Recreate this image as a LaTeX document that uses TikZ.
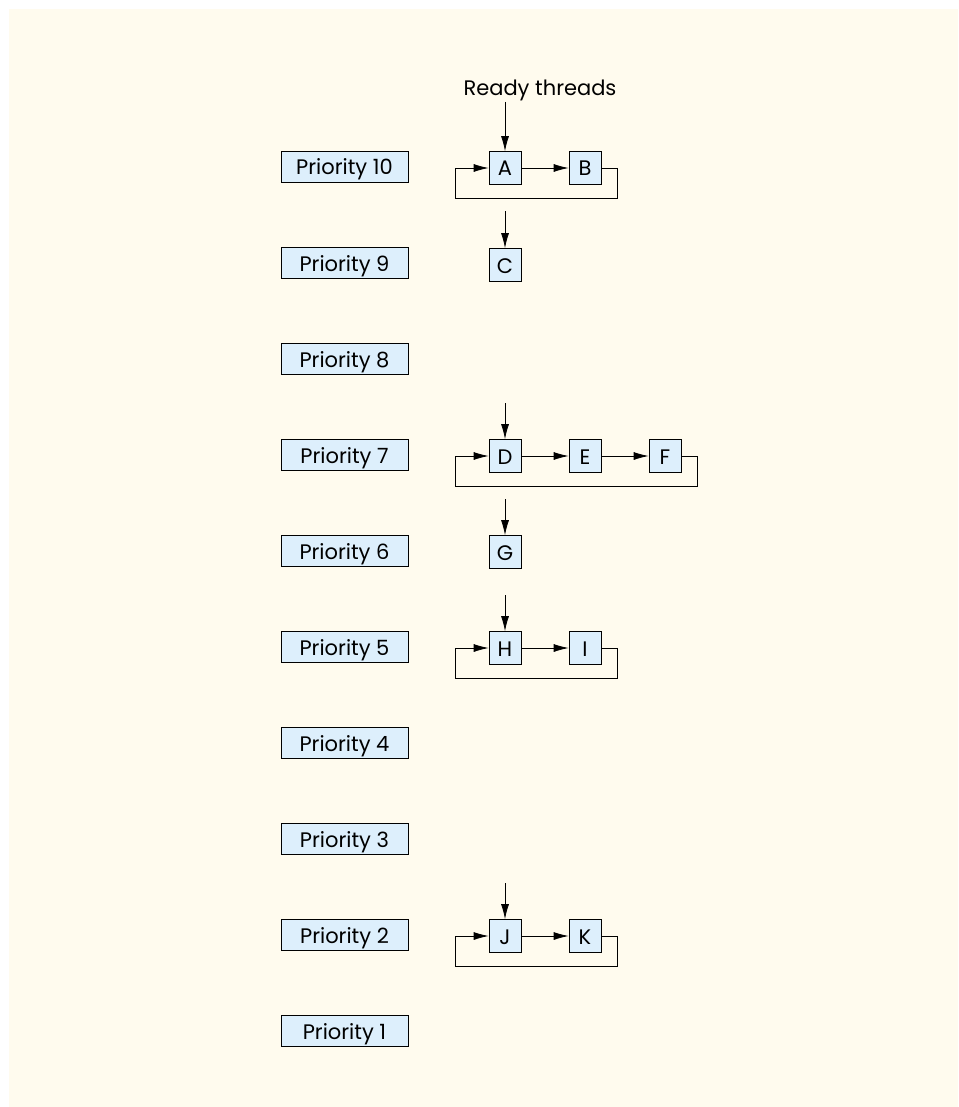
\documentclass[tikz,border=0pt]{standalone}
\usepackage{fontspec}
\setmainfont{Poppins}
\usetikzlibrary{arrows.meta,calc}
\definecolor{bgcream}{RGB}{255,251,238}
\definecolor{boxblue}{RGB}{221,239,252}
\tikzset{
  prio/.style={draw=black, fill=boxblue, line width=0.8pt, minimum width=127pt, minimum height=31pt, inner sep=0pt, text height=16pt, text depth=0pt, font=\fontsize{21}{24}\selectfont},
  thread/.style={draw=black, fill=boxblue, line width=0.7pt, minimum width=32pt, minimum height=33pt, inner sep=0pt, text height=16pt, text depth=0pt, font=\fontsize{21}{24}\selectfont},
  arr/.style={line width=0.8pt, -{Latex[length=15pt,width=8pt]}}
}
\begin{document}
\begin{tikzpicture}[x=1pt,y=-1pt]
\useasboundingbox (0,0) rectangle (958,1107);
\fill[bgcream] (9,9) rectangle (958,1107);
% priority boxes
\foreach \n [count=\k from 0] in {10,9,8,7,6,5,4,3,2,1}{
  \node[prio] (p\n) at (344.5,{167+96*\k}) {Priority \n};
}
% label
\node[font=\fontsize{21}{24}\selectfont, text height=16pt, text depth=0pt, inner sep=0pt] (ready) at (540,88) {Ready threads};
% threads
\node[thread] (A) at (505,168) {A};
\node[thread] (B) at (585,168) {B};
\node[thread] (C) at (505,265) {C};
\node[thread] (D) at (505,456) {D};
\node[thread] (E) at (585,456) {E};
\node[thread] (F) at (665,456) {F};
\node[thread] (G) at (505,552) {G};
\node[thread] (H) at (505,648) {H};
\node[thread] (I) at (585,648) {I};
\node[thread] (J) at (505,936) {J};
\node[thread] (K) at (585,936) {K};
% entry arrows
\coordinate (inA) at (505,102);
\coordinate (inC) at ($(C.north)+(0,-37)$);
\coordinate (inD) at ($(D.north)+(0,-36)$);
\coordinate (inG) at ($(G.north)+(0,-36)$);
\coordinate (inH) at ($(H.north)+(0,-36)$);
\coordinate (inJ) at ($(J.north)+(0,-36)$);
\draw[arr] (inA) -- (A.north);
\draw[arr] (inC) -- (C.north);
\draw[arr] (inD) -- (D.north);
\draw[arr] (inG) -- (G.north);
\draw[arr] (inH) -- (H.north);
\draw[arr] (inJ) -- (J.north);
% chains
\draw[arr] (A.east) -- (B.west);
\draw[arr] (D.east) -- (E.west);
\draw[arr] (E.east) -- (F.west);
\draw[arr] (H.east) -- (I.west);
\draw[arr] (J.east) -- (K.west);
% loops
\draw[arr] (B.east) -- ++(16,0) -- ++(0,30) -| ([xshift=-33pt]A.west) -- (A.west);
\draw[arr] (F.east) -- ++(16,0) -- ++(0,30) -| ([xshift=-33pt]D.west) -- (D.west);
\draw[arr] (I.east) -- ++(16,0) -- ++(0,30) -| ([xshift=-33pt]H.west) -- (H.west);
\draw[arr] (K.east) -- ++(16,0) -- ++(0,30) -| ([xshift=-33pt]J.west) -- (J.west);
\end{tikzpicture}
\end{document}
